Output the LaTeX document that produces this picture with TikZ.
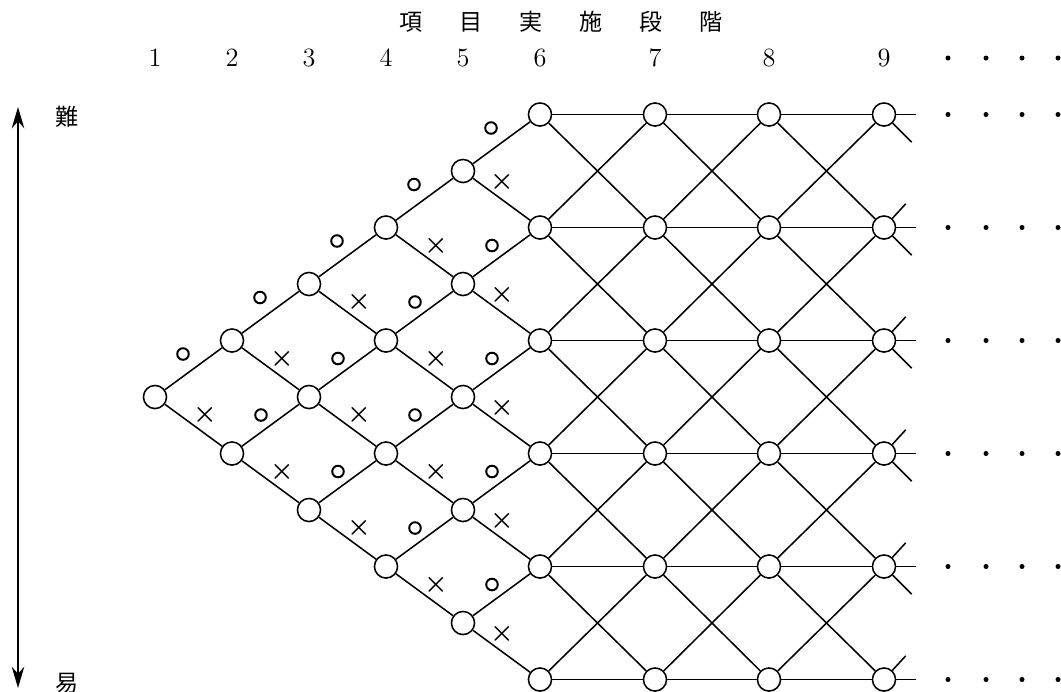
\documentclass[tikz,border=0pt]{standalone}
\usepackage{fontspec}
\usepackage{bm}
\newfontfamily\jpfont{Noto Sans CJK JP}
\usetikzlibrary{arrows.meta}

\begin{document}
\begin{tikzpicture}[
  x=0.016cm, y=-0.016cm,
  line width=0.7pt,
  stagenode/.style={circle, draw, fill=white, minimum size=0.37cm, inner sep=0pt},
  numlabel/.style={font=\fontsize{12}{14}\selectfont, inner sep=0pt},
  jplabel/.style={font=\jpfont\fontsize{10.5}{12}\selectfont, inner sep=0pt},
  okmark/.style={circle, draw, line width=0.9pt, minimum size=0.185cm, inner sep=0pt},
  ngmark/.style={font=\fontsize{13}{15}\selectfont, inner sep=0pt},
  dot/.style={circle, fill, inner sep=0pt, minimum size=0.08cm},
  arr/.style={{Stealth[length=3.4mm,width=2mm]}-{Stealth[length=3.4mm,width=2mm]}, line width=0.8pt}
]
  \useasboundingbox (0,0) rectangle (1061,691);

  % headings
  \node[jplabel] (title) at (561,22) {項\hspace{0.59cm}目\hspace{0.59cm}実\hspace{0.59cm}施\hspace{0.59cm}段\hspace{0.59cm}階};
  \foreach \k/\xk in {1/155,2/232,3/309,4/386,5/463,6/540,7/655,8/769,9/884}
    \node[numlabel] (lab\k) at (\xk,58) {\k};

  % difficulty axis
  \coordinate (hard) at (18,107);
  \coordinate (easy) at (18,688);
  \draw[arr] (hard) -- (easy);
  \node[jplabel] (nan) at (67,117) {難};
  \node[jplabel] (yi) at (67,683) {易};

  % stages 1-6 (triangle)
  \foreach \k/\xk in {1/155,2/232,3/309,4/386,5/463,6/540} {
    \pgfmathtruncatemacro{\last}{\k-1}
    \foreach \j in {0,...,\last}
      \node[stagenode] (s\k r\j) at (\xk,{397-56.5*(\k-1)+113*\j}) {};
  }
  % stages 7-9
  \foreach \k/\xk in {7/655,8/769,9/884}
    \foreach \j in {0,...,5}
      \node[stagenode] (s\k r\j) at (\xk,{114.5+113*\j}) {};

  % up/down steps inside the triangle
  \foreach \k in {1,...,5} {
    \pgfmathtruncatemacro{\n}{\k+1}
    \pgfmathtruncatemacro{\last}{\k-1}
    \foreach \j in {0,...,\last} {
      \pgfmathtruncatemacro{\jj}{\j+1}
      \draw (s\k r\j) -- (s\n r\j);
      \draw (s\k r\j) -- (s\n r\jj);
    }
  }
  % lattice from stage 6 on
  \foreach \k in {6,7,8} {
    \pgfmathtruncatemacro{\n}{\k+1}
    \foreach \j in {0,...,5}
      \draw (s\k r\j) -- (s\n r\j);
    \foreach \j in {0,...,4} {
      \pgfmathtruncatemacro{\jj}{\j+1}
      \draw (s\k r\j) -- (s\n r\jj);
      \draw (s\k r\jj) -- (s\n r\j);
    }
  }
  % loose ends after stage 9
  \foreach \j in {0,...,5} {
    \path (s9r\j.east) ++(20,0) coordinate (he\j);
    \draw (s9r\j) -- (he\j);
  }
  \foreach \j in {0,...,4} {
    \pgfmathtruncatemacro{\jj}{\j+1}
    \path (s9r\j.south east) ++(19,19) coordinate (de\j);
    \path (s9r\jj.north east) ++(13,-15) coordinate (ue\jj);
    \draw (s9r\j) -- (de\j);
    \draw (s9r\jj) -- (ue\jj);
  }

  % continuation dots
  \foreach \y [count=\r] in {58,114.5,227.5,340.5,453.5,566.5,679.5}
    \foreach \x [count=\c] in {948,986,1022,1058}
      \node[dot] (d\r-\c) at (\x,\y) {};

  % answer marks
  \foreach \k in {1,...,5}
    \path (s\k r0) ++(28,-43) node[okmark] (top\k) {};
  \foreach \k in {1,...,4} {
    \pgfmathtruncatemacro{\last}{\k-1}
    \foreach \j in {0,...,\last} {
      \path (s\k r\j) ++(50,18) node[ngmark] (ng\k\j) {$\bm{\times}$};
      \path (s\k r\j) ++(106,18) node[okmark] (ok\k\j) {};
    }
  }
  \foreach \j in {0,...,4}
    \path (s5r\j) ++(39,11) node[ngmark] (ng5\j) {$\bm{\times}$};
\end{tikzpicture}
\end{document}
